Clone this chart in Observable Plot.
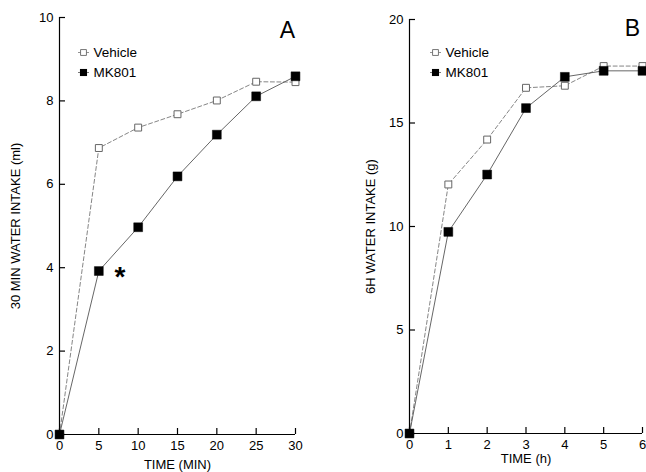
<!DOCTYPE html>
<html>
<head>
<meta charset="utf-8">
<script src="https://cdn.jsdelivr.net/npm/d3@7"></script>
<script src="https://cdn.jsdelivr.net/npm/@observablehq/plot@0.6"></script>
<style>
  html, body { margin: 0; padding: 0; background: #fff; }
  #wrap { position: relative; width: 646px; height: 472px; overflow: hidden; }
  .panel { position: absolute; top: 0; }
  .panel svg { overflow: visible; }
</style>
</head>
<body>
<div id="wrap">
  <div class="panel" id="pa" style="left:0px"></div>
  <div class="panel" id="pb" style="left:330px"></div>
</div>
<script>
// ---- Data ----
const timeA = [0, 5, 10, 15, 20, 25, 30];
const vehicleA = [0, 6.87, 7.36, 7.68, 8.01, 8.46, 8.45];
const mk801A = [0, 3.92, 4.97, 6.19, 7.19, 8.11, 8.59];

const timeB = [0, 1, 2, 3, 4, 5, 6];
const vehicleB = [0, 12.03, 14.2, 16.7, 16.8, 17.75, 17.75];
const mk801B = [0, 9.74, 12.51, 15.72, 17.23, 17.52, 17.52];

const ticksXA = [0, 5, 10, 15, 20, 25, 30];
const ticksYA = [0, 2, 4, 6, 8, 10];
const ticksXB = [0, 1, 2, 3, 4, 5, 6];
const ticksYB = [0, 5, 10, 15, 20];

const seriesNames = ["Vehicle", "MK801"];
const significance = [{t: 5, label: "*"}]; // panel A, MK801 at 5 min

const FONT = "'Liberation Sans', Arial, Helvetica, sans-serif";

const lineSymbol = {
  draw(ctx, size) {
    const r = Math.sqrt(size / Math.PI);
    ctx.moveTo(-r, 0);
    ctx.lineTo(r, 0);
  }
};

function rows(t, v) { return t.map((x, i) => ({t: x, v: v[i]})); }

function panel({times, veh, mk, xDomain, yDomain, xTicks, yTicks, xLabel, yLabel, letter,
                width, margins, legendDx, legendDy, yLabelOffset, xLabelOffset, extra = []}) {
  const vRows = rows(times, veh);
  const mRows = rows(times, mk);
  return Plot.plot({
    width, height: 472,
    marginLeft: margins[0], marginRight: margins[1], marginTop: margins[2], marginBottom: margins[3],
    style: {fontFamily: FONT, fontSize: "13px", color: "#000", background: "transparent"},
    x: {domain: xDomain},
    y: {domain: yDomain},
    marks: [
      Plot.ruleX([xDomain[0]], {stroke: "#000", strokeWidth: 1.2}),
      Plot.ruleY([yDomain[0]], {stroke: "#000", strokeWidth: 1.2}),
      // inward ticks (negative tickSize), labels outside
      Plot.axisY({ticks: yTicks, tickSize: -6, tickPadding: 12, tickFormat: d => String(d), strokeWidth: 1.2,
                  label: yLabel, labelAnchor: "center", labelOffset: yLabelOffset, labelArrow: "none"}),
      Plot.axisX({ticks: xTicks, tickSize: -6, tickPadding: 12, tickFormat: d => String(d), strokeWidth: 1.2,
                  label: xLabel, labelAnchor: "center", labelOffset: xLabelOffset, labelArrow: "none"}),
      Plot.line(vRows, {x: "t", y: "v", stroke: "#777", strokeWidth: 0.9, strokeDasharray: "4,2.5"}),
      Plot.line(mRows, {x: "t", y: "v", stroke: "#555", strokeWidth: 0.9}),
      Plot.dot(vRows, {x: "t", y: "v", symbol: "square", r: 3.9, fill: "#fff", stroke: "#666", strokeWidth: 1}),
      Plot.dot(mRows, {x: "t", y: "v", symbol: "square", r: 5, fill: "#000", stroke: "#000", strokeWidth: 0.5}),
      // legend
      Plot.dot([seriesNames[0]], {frameAnchor: "top-left", dx: legendDx, dy: legendDy, symbol: lineSymbol, r: 5.5, stroke: "#777", strokeWidth: 0.8, fill: "none"}),
      Plot.dot([seriesNames[0]], {frameAnchor: "top-left", dx: legendDx, dy: legendDy, symbol: "square", r: 3.3, fill: "#fff", stroke: "#666", strokeWidth: 0.9}),
      Plot.text([seriesNames[0]], {text: d => d, frameAnchor: "top-left", dx: legendDx + 10, dy: legendDy, textAnchor: "start", lineAnchor: "middle", fontSize: 13.5}),
      Plot.dot([seriesNames[1]], {frameAnchor: "top-left", dx: legendDx, dy: legendDy + 20, symbol: lineSymbol, r: 5.5, stroke: "#555", strokeWidth: 0.8, fill: "none"}),
      Plot.dot([seriesNames[1]], {frameAnchor: "top-left", dx: legendDx, dy: legendDy + 20, symbol: "square", r: 4, fill: "#000"}),
      Plot.text([seriesNames[1]], {text: d => d, frameAnchor: "top-left", dx: legendDx + 10, dy: legendDy + 20, textAnchor: "start", lineAnchor: "middle", fontSize: 13.5}),
      // panel letter
      Plot.text([letter.text], {text: d => d, frameAnchor: "top-right", dx: letter.dx, dy: letter.dy, textAnchor: "middle", lineAnchor: "middle", fontSize: 23}),
      ...extra
    ]
  });
}

const a = panel({
  times: timeA, veh: vehicleA, mk: mk801A,
  xDomain: [0, 30], yDomain: [0, 10], xTicks: ticksXA, yTicks: ticksYA,
  xLabel: "TIME (MIN)", yLabel: "30 MIN WATER INTAKE (ml)",
  letter: {text: "A", dx: -8, dy: 13},
  width: 310, margins: [59, 15, 17, 38], legendDx: 24, legendDy: 35,
  yLabelOffset: 49, xLabelOffset: 34,
  extra: [
    Plot.text(significance, {x: "t", y: () => mk801A[timeA.indexOf(5)], text: "label", dx: 21, dy: 6,
      textAnchor: "middle", lineAnchor: "middle", fontSize: 28, fontWeight: "bold"})
  ]
});
document.getElementById("pa").appendChild(a);

const b = panel({
  times: timeB, veh: vehicleB, mk: mk801B,
  xDomain: [0, 6], yDomain: [0, 20], xTicks: ticksXB, yTicks: ticksYB,
  xLabel: "TIME (h)", yLabel: "6H WATER INTAKE (g)",
  letter: {text: "B", dx: -10, dy: 9},
  width: 316, margins: [79, 4, 19, 39], legendDx: 26, legendDy: 33,
  yLabelOffset: 44, xLabelOffset: 29
});
document.getElementById("pb").appendChild(b);
</script>
</body>
</html>
